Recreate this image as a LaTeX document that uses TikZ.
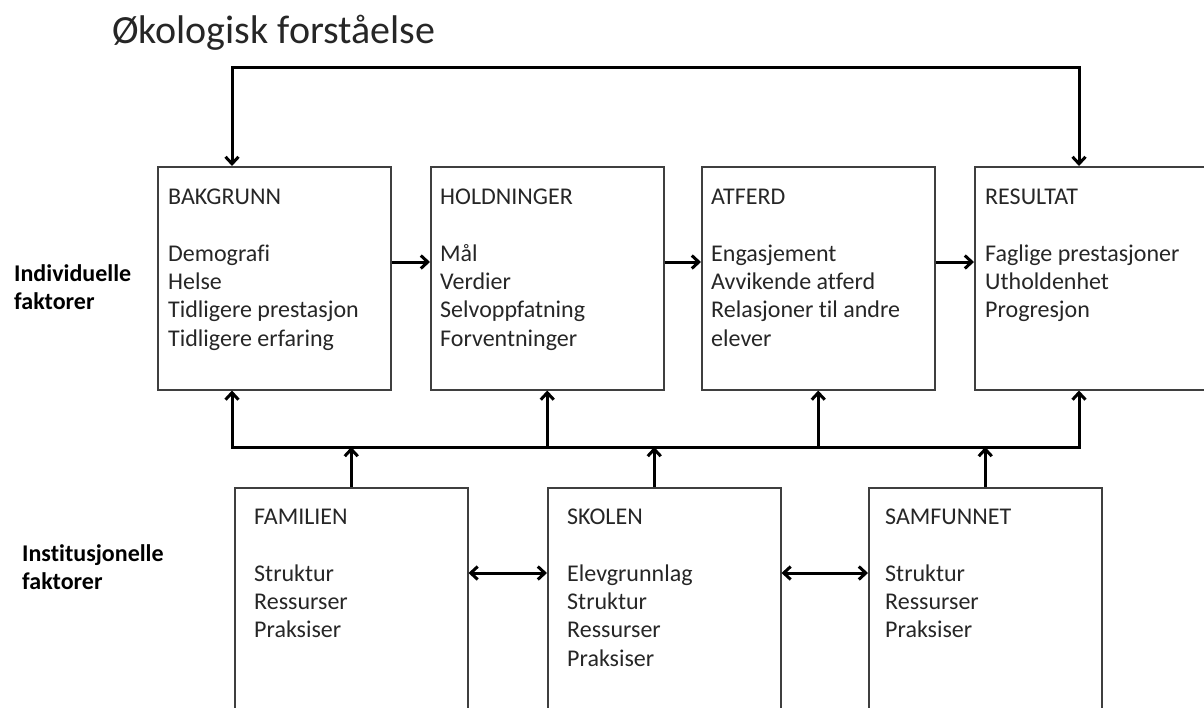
\documentclass[tikz,border=0pt]{standalone}
\usepackage{fontspec}
\setmainfont{Carlito}[Ligatures=NoCommon]
\usetikzlibrary{arrows.meta,positioning}
\definecolor{boxborder}{HTML}{3F3F3F}
\definecolor{textdark}{HTML}{262626}

\begin{document}
\begin{tikzpicture}[
  x=1pt, y=-1pt,
  font=\fontsize{24}{28.3}\selectfont,
  factor/.style={rectangle, draw=boxborder, line width=1.5pt, anchor=north west, minimum width=233pt, minimum height=223pt, inner sep=0pt},
  inst/.style={factor, minimum height=260pt},
  boxtext/.style={anchor=north west, align=left, inner sep=0pt, text=textdark},
  sidelabel/.style={anchor=base west, align=left, inner sep=0pt, font=\fontsize{24}{28}\selectfont\bfseries, text=black},
  arrow/.style={-{Straight Barb[length=7pt,width=13pt]}, line width=3pt},
  twoway/.style={{Straight Barb[length=7pt,width=13pt]}-{Straight Barb[length=7pt,width=13pt]}, line width=3pt}
]
\useasboundingbox (0,0) rectangle (1204,707);
\clip (0,0) rectangle (1204,707);

\node[anchor=base west, inner sep=0pt, font=\fontsize{40}{48}\selectfont, text=textdark] (title) at (112,43) {Økologisk forståelse};

\node[sidelabel] (individuelle) at (14,309) {Individuelle\\faktorer};
\node[sidelabel] (institusjonelle) at (22,589) {Institusjonelle\\faktorer};

\node[factor] (bakgrunn) at (157,166) {};
\node[factor] (holdninger) at (430,166) {};
\node[factor] (atferd) at (701,166) {};
\node[factor] (resultat) at (974,166) {};

\node[boxtext] (bakgrunntxt) at ([xshift=11pt,yshift=-23pt]bakgrunn.north west) {BAKGRUNN\\[28.3pt]
Demografi\\Helse\\Tidligere prestasjon\\Tidligere erfaring};
\node[boxtext] (holdningertxt) at ([xshift=10pt,yshift=-23pt]holdninger.north west) {HOLDNINGER\\[28.3pt]
Mål\\Verdier\\Selvoppfatning\\Forventninger};
\node[boxtext] (atferdtxt) at ([xshift=10pt,yshift=-23pt]atferd.north west) {ATFERD\\[28.3pt]
Engasjement\\Avvikende atferd\\Relasjoner til andre\\elever};
\node[boxtext] (resultattxt) at ([xshift=11pt,yshift=-23pt]resultat.north west) {RESULTAT\\[28.3pt]
Faglige prestasjoner\\Utholdenhet\\Progresjon};

\node[inst] (familien) at (234,487) {};
\node[inst] (skolen) at (547,487) {};
\node[inst] (samfunnet) at (868,487) {};

\node[boxtext] (familientxt) at ([xshift=20pt,yshift=-22pt]familien.north west) {FAMILIEN\\[28.3pt]
Struktur\\Ressurser\\Praksiser};
\node[boxtext] (skolentxt) at ([xshift=20pt,yshift=-22pt]skolen.north west) {SKOLEN\\[28.3pt]
Elevgrunnlag\\Struktur\\Ressurser\\Praksiser};
\node[boxtext] (samfunnettxt) at ([xshift=17pt,yshift=-22pt]samfunnet.north west) {SAMFUNNET\\[28.3pt]
Struktur\\Ressurser\\Praksiser};

\coordinate (fbleft) at (232,67);
\coordinate (fbright) at (1079,67);
\coordinate (busleft) at (232,447);
\coordinate (busright) at (1079,447);
\coordinate (toprow) at (0,262);
\coordinate (botrow) at (0,573);

\draw[twoway] (fbleft |- bakgrunn.north) -- (fbleft) -- (fbright) -- (fbright |- resultat.north);

\draw[arrow] (bakgrunn.east |- toprow) -- (holdninger.west |- toprow);
\draw[arrow] (holdninger.east |- toprow) -- (atferd.west |- toprow);
\draw[arrow] (atferd.east |- toprow) -- (resultat.west |- toprow);

\draw[twoway] (busleft |- bakgrunn.south) -- (busleft) -- (busright) -- (busright |- resultat.south);
\draw[arrow] (holdninger.south |- busleft) -- (holdninger.south);
\draw[arrow] (atferd.south |- busleft) -- (atferd.south);

\draw[arrow] (familien.north) -- (familien.north |- busleft);
\draw[arrow] ([xshift=-10pt]skolen.north) -- ([xshift=-10pt]skolen.north |- busleft);
\draw[arrow] (samfunnet.north) -- (samfunnet.north |- busleft);

\draw[twoway] (familien.east |- botrow) -- (skolen.west |- botrow);
\draw[twoway] (skolen.east |- botrow) -- (samfunnet.west |- botrow);

\end{tikzpicture}
\end{document}
